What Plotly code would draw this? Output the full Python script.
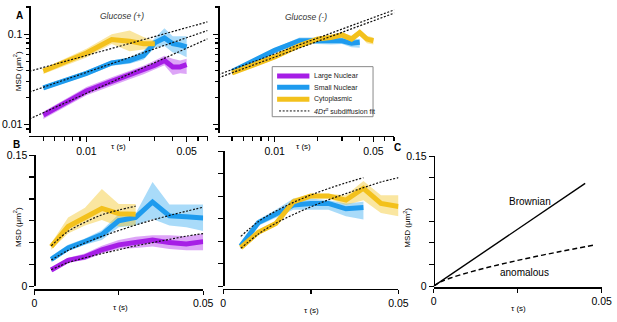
import math
import plotly.graph_objects as go

# ---------------- data ----------------
tau = [0.005, 0.01, 0.015, 0.02, 0.025, 0.03, 0.035, 0.04, 0.045, 0.05]

# Panel A, Glucose (+), log-log view
plus_log_large = [0.0128, 0.0236, 0.0302, 0.0355, 0.0402, 0.0454, 0.0513, 0.0436, 0.0436, 0.0461]
plus_log_large_hi = [0.0139, 0.0262, 0.0335, 0.0395, 0.0450, 0.0513, 0.0580, 0.0535, 0.0513, 0.0535]
plus_log_large_lo = [0.0116, 0.0212, 0.0271, 0.0319, 0.0361, 0.0408, 0.0454, 0.0355, 0.0370, 0.0364]
plus_log_small = [0.0256, 0.0370, 0.0481, 0.0513, 0.0580, 0.0805, 0.0910, 0.0786, 0.0760, 0.0724]
plus_log_small_hi = [0.0271, 0.0395, 0.0513, 0.0557, 0.0656, 0.0910, 0.1163, 0.0948, 0.0948, 0.0948]
plus_log_small_lo = [0.0242, 0.0347, 0.0450, 0.0473, 0.0522, 0.0712, 0.0742, 0.0630, 0.0605, 0.0557]
plus_log_cyto = [0.0392, 0.0620, 0.0874, 0.0839, 0.0786, 0.0786]
plus_log_cyto_hi = [0.0418, 0.0690, 0.1000, 0.1100, 0.0930, 0.0845]
plus_log_cyto_lo = [0.0364, 0.0555, 0.0780, 0.0650, 0.0680, 0.0720]
fit_log_tau = [0.004, 0.07]
plus_log_fit_cyto = [0.039, 0.137]
plus_log_fit_small = [0.023, 0.110]
plus_log_fit_large = [0.0116, 0.089]

# Panel A, Glucose (-), log-log view
minus_log_small = [0.0388, 0.0663, 0.0848, 0.0848, 0.0835, 0.0848, 0.0794, 0.0814]
minus_log_small_hi = [0.0405, 0.0702, 0.0921, 0.0921, 0.0921, 0.0921, 0.0884, 0.0884]
minus_log_small_lo = [0.0373, 0.0626, 0.0794, 0.0781, 0.0769, 0.0781, 0.0720, 0.0708]
minus_log_cyto = [0.0373, 0.0562, 0.0750, 0.0884, 0.0921, 0.0984, 0.0884, 0.1042, 0.0884, 0.0848]
minus_log_cyto_hi = [0.0388, 0.0596, 0.0794, 0.0936, 0.0984, 0.1051, 0.0960, 0.1131, 0.0960, 0.0921]
minus_log_cyto_lo = [0.0358, 0.0531, 0.0708, 0.0835, 0.0862, 0.0921, 0.0814, 0.0960, 0.0794, 0.0769]
fit_log_tau_minus = [0.004, 0.073]
minus_log_fit_a = [0.0358, 0.190]
minus_log_fit_b = [0.0330, 0.175]

# Panel B, Glucose (+), linear view
plus_lin_large = [0.0185, 0.0296, 0.0336, 0.0417, 0.0473, 0.0499, 0.0528, 0.0499, 0.0484, 0.0510]
plus_lin_large_hi = [0.0203, 0.0325, 0.0373, 0.0462, 0.0528, 0.0565, 0.0584, 0.0584, 0.0573, 0.0602]
plus_lin_large_lo = [0.0166, 0.0270, 0.0299, 0.0373, 0.0425, 0.0436, 0.0454, 0.0425, 0.0410, 0.0410]
plus_lin_small = [0.0307, 0.0436, 0.0510, 0.0591, 0.0750, 0.0787, 0.0964, 0.0805, 0.0794, 0.0780]
plus_lin_small_hi = [0.0344, 0.0473, 0.0547, 0.0639, 0.0824, 0.0831, 0.1193, 0.0935, 0.0935, 0.0935]
plus_lin_small_lo = [0.0277, 0.0399, 0.0473, 0.0528, 0.0676, 0.0695, 0.0768, 0.0695, 0.0676, 0.0632]
plus_lin_cyto = [0.0454, 0.0683, 0.0787, 0.0890, 0.0831, 0.0824]
plus_lin_cyto_hi = [0.0491, 0.0787, 0.0898, 0.1112, 0.0942, 0.0942]
plus_lin_cyto_lo = [0.0417, 0.0602, 0.0695, 0.0757, 0.0683, 0.0695]
plus_lin_fit_cyto = [0.0462, 0.0628, 0.0732, 0.0817, 0.0872, 0.0916]
plus_lin_fit_small = [0.0299, 0.0410, 0.0495, 0.0570, 0.0637, 0.0700, 0.0757, 0.0810, 0.0858, 0.0905]
plus_lin_fit_large = [0.0188, 0.0270, 0.0325, 0.0373, 0.0417, 0.0462, 0.0499, 0.0536, 0.0573, 0.0602]

# Panel B, Glucose (-), linear view
minus_lin_small = [0.0446, 0.0707, 0.0804, 0.0904, 0.0921, 0.0921, 0.0861, 0.0875]
minus_lin_small_hi = [0.0475, 0.0743, 0.0850, 0.0975, 0.0975, 0.0957, 0.0921, 0.0939]
minus_lin_small_lo = [0.0421, 0.0671, 0.0761, 0.0850, 0.0850, 0.0850, 0.0779, 0.0743]
minus_lin_cyto = [0.0429, 0.0600, 0.0696, 0.0939, 0.1004, 0.1004, 0.0957, 0.1089, 0.0921, 0.0886]
minus_lin_cyto_hi = [0.0446, 0.0625, 0.0725, 0.0975, 0.1029, 0.1029, 0.1011, 0.1171, 0.1011, 0.1011]
minus_lin_cyto_lo = [0.0411, 0.0575, 0.0671, 0.0904, 0.0975, 0.0975, 0.0904, 0.0957, 0.0814, 0.0779]
minus_lin_fit_a = [0.0554, 0.0718, 0.0836, 0.0932, 0.1014, 0.1086, 0.1150, 0.1207]
minus_lin_fit_b = [0.0421, 0.0579, 0.0700, 0.0797, 0.0883, 0.0961, 0.1030, 0.1096, 0.1159, 0.1207]

# Panel C, schematic
brownian_tau = [0.0, 0.0451]
brownian_msd = [0.0, 0.1186]
anomalous_tau = [0.0, 0.002, 0.005, 0.01, 0.015, 0.02, 0.025, 0.03, 0.035, 0.04, 0.0476]
anomalous_msd = [0.0, 0.0048, 0.0094, 0.0154, 0.0206, 0.0253, 0.0297, 0.0339, 0.0379, 0.0417, 0.0473]

# ---------------- style ----------------
W, H = 617, 322
FONT = "Liberation Sans, Arial, sans-serif"
PURPLE, BLUE, YELLOW = "#A61EE6", "#1E9BEE", "#F3C11C"
PURPLE_F = "rgba(175,40,235,0.42)"
BLUE_F = "rgba(40,165,240,0.40)"
YELLOW_F = "rgba(245,200,45,0.45)"
DOT = "2px,1.6px"


def px(x):
    return x / W


def py(y):
    return 1 - y / H


fig = go.Figure()


def band(xs, lo, hi, color, ax):
    xs = xs[:len(hi)]
    fig.add_trace(go.Scatter(x=xs + xs[::-1], y=hi + lo[::-1], fill="toself",
                             fillcolor=color, line=dict(width=0), mode="lines",
                             hoverinfo="skip", showlegend=False,
                             xaxis="x" + ax, yaxis="y" + ax))


def curve(xs, ys, color, ax, width=5, dash="solid", shape="linear"):
    xs = xs[:len(ys)]
    fig.add_trace(go.Scatter(x=xs, y=ys, mode="lines",
                             line=dict(color=color, width=width, dash=dash, shape=shape),
                             hoverinfo="skip", showlegend=False,
                             xaxis="x" + ax, yaxis="y" + ax))


# A left
band(tau, plus_log_large_lo, plus_log_large_hi, PURPLE_F, "")
band(tau, plus_log_small_lo, plus_log_small_hi, BLUE_F, "")
band(tau, plus_log_cyto_lo, plus_log_cyto_hi, YELLOW_F, "")
curve(tau, plus_log_large, PURPLE, "")
curve(tau, plus_log_small, BLUE, "")
curve(tau, plus_log_cyto, YELLOW, "")
for f in (plus_log_fit_cyto, plus_log_fit_small, plus_log_fit_large):
    curve(fit_log_tau, f, "#111", "", width=1.2, dash=DOT)

# A right
band(tau, minus_log_small_lo, minus_log_small_hi, BLUE_F, "2")
band(tau, minus_log_cyto_lo, minus_log_cyto_hi, YELLOW_F, "2")
curve(tau, minus_log_small, BLUE, "2")
curve(tau, minus_log_cyto, YELLOW, "2")
for f in (minus_log_fit_a, minus_log_fit_b):
    curve(fit_log_tau_minus, f, "#111", "2", width=1.2, dash=DOT)

# B left
band(tau, plus_lin_large_lo, plus_lin_large_hi, PURPLE_F, "3")
band(tau, plus_lin_small_lo, plus_lin_small_hi, BLUE_F, "3")
band(tau, plus_lin_cyto_lo, plus_lin_cyto_hi, YELLOW_F, "3")
curve(tau, plus_lin_large, PURPLE, "3")
curve(tau, plus_lin_small, BLUE, "3")
curve(tau, plus_lin_cyto, YELLOW, "3")
for f in (plus_lin_fit_cyto, plus_lin_fit_small, plus_lin_fit_large):
    curve(tau, f, "#111", "3", width=1.2, dash=DOT, shape="spline")

# B right
band(tau, minus_lin_small_lo, minus_lin_small_hi, BLUE_F, "4")
band(tau, minus_lin_cyto_lo, minus_lin_cyto_hi, YELLOW_F, "4")
curve(tau, minus_lin_small, BLUE, "4")
curve(tau, minus_lin_cyto, YELLOW, "4")
for f in (minus_lin_fit_a, minus_lin_fit_b):
    curve(tau, f, "#111", "4", width=1.2, dash=DOT, shape="spline")

# C
curve(brownian_tau, brownian_msd, "black", "5", width=1.4)
curve(anomalous_tau, anomalous_msd, "black", "5", width=1.4, dash="5px,3px", shape="spline")

# ---------------- axes ----------------
base = dict(showline=True, linecolor="black", linewidth=1.5, ticks="outside",
            tickcolor="black", tickwidth=1.3, showgrid=False, zeroline=False,
            anchor="free", tickfont=dict(family=FONT, size=10.5, color="black"))

log_x_minor = [0.005, 0.006, 0.007, 0.008, 0.009, 0.02, 0.03, 0.04, 0.06, 0.07]
log_y_minor = [0.009, 0.02, 0.03, 0.04, 0.05, 0.06, 0.07, 0.08, 0.09, 0.2]
yr_log = [math.log10(0.0081), math.log10(0.205)]
xr_log = [math.log10(0.004), math.log10(0.07)]


def logx(dom, pos):
    return dict(base, type="log", range=xr_log, domain=dom, position=pos,
                tickmode="array", tickvals=[0.01, 0.05], ticktext=["0.01", "0.05"], ticklen=5,
                minor=dict(tickmode="array", tickvals=log_x_minor, ticklen=3.5,
                           tickwidth=1.2, tickcolor="black", ticks="outside"))


def logy(dom, pos, labels):
    return dict(base, type="log", range=yr_log, domain=dom, position=pos,
                tickmode="array", tickvals=[0.01, 0.1], ticktext=["0.01", "0.1"], ticklen=5,
                showticklabels=labels,
                minor=dict(tickmode="array", tickvals=log_y_minor, ticklen=3.5,
                           tickwidth=1.2, tickcolor="black", ticks="outside"))


def linx(dom, pos):
    return dict(base, range=[0, 0.05], domain=dom, position=pos, tickmode="array",
                tickvals=[0, 0.025, 0.05], ticktext=["0", " ", "0.05"], ticklen=4)


def liny(dom, pos, labels):
    return dict(base, range=[0, 0.15], domain=dom, position=pos, tickmode="array",
                tickvals=[0, 0.025, 0.05, 0.075, 0.1, 0.125, 0.15],
                ticktext=["0", " ", " ", " ", " ", " ", "0.15"], ticklen=5,
                showticklabels=labels)


layout = dict(
    width=W, height=H, autosize=False,
    margin=dict(l=0, r=0, t=0, b=0),
    paper_bgcolor="white", plot_bgcolor="rgba(0,0,0,0)",
    showlegend=False,
    font=dict(family=FONT, color="black"),
    xaxis=logx([px(27), px(209)], py(135)),
    yaxis=logy([py(132), 1], px(27), True),
    xaxis2=logx([px(220), px(399.5)], py(135)),
    yaxis2=logy([py(132), 1], px(220), False),
    xaxis3=linx([px(32), px(204.5)], py(294)),
    yaxis3=liny([py(291), py(155)], px(32), True),
    xaxis4=linx([px(225), px(404)], py(293.5)),
    yaxis4=liny([py(291), py(151)], px(225), False),
    xaxis5=linx([px(440), px(611.5)], py(292)),
    yaxis5=liny([py(291), py(156)], px(440), True),
)
fig.update_layout(**layout)


def note(text, x, y, size=8, angle=0, anchor="center", color="black"):
    fig.add_annotation(text=text, x=px(x), y=py(y), xref="paper", yref="paper",
                       showarrow=False, xanchor=anchor, yanchor="middle",
                       textangle=angle, font=dict(family=FONT, size=size, color=color))


msd = "MSD (μm<sup>2</sup>)"
note(msd, 15, 68, 8, -90)
note(msd, 15, 230, 8, -90)
note(msd, 413, 230, 8, -90)
for (x, y) in [(118, 146), (307, 146), (120, 313), (315, 316), (527, 314)]:
    note("τ (s)", x, y, 8)
note("<i>Glucose (+)</i>", 122, 10, 8.5, color="#333")
note("<i>Glucose (-)</i>", 310, 11, 8.5, color="#333")
note("<b>A</b>", 17, 10, 10)
note("<b>B</b>", 14, 143.5, 10)
note("<b>C</b>", 403, 147, 10)
note("Brownian", 538, 203, 10)
note("anomalous", 533, 277, 10)

# legend (manual)
fig.add_shape(type="rect", xref="paper", yref="paper", x0=px(275), x1=px(378),
              y0=py(115), y1=py(63), line=dict(color="#8a8a8a", width=1), fillcolor="white")
leg = [("Large Nuclear", PURPLE, 72.7), ("Small Nuclear", BLUE, 84.3), ("Cytoplasmic", YELLOW, 96.8)]
for name, col, y in leg:
    fig.add_shape(type="line", xref="paper", yref="paper", x0=px(280), x1=px(313),
                  y0=py(y), y1=py(y), line=dict(color=col, width=5))
    note(name, 316, y, 7, anchor="left", color="#222")
fig.add_shape(type="line", xref="paper", yref="paper", x0=px(282), x1=px(313),
              y0=py(109), y1=py(109), line=dict(color="#111", width=1, dash=DOT))
note("<i>4Dτ</i><sup>α</sup> subdiffusion fit", 316, 109, 7, anchor="left", color="#222")

fig.write_html("out.html", config={"displayModeBar": False, "staticPlot": True},
               post_script="document.body.style.margin='0px';document.body.style.overflow='hidden';")
